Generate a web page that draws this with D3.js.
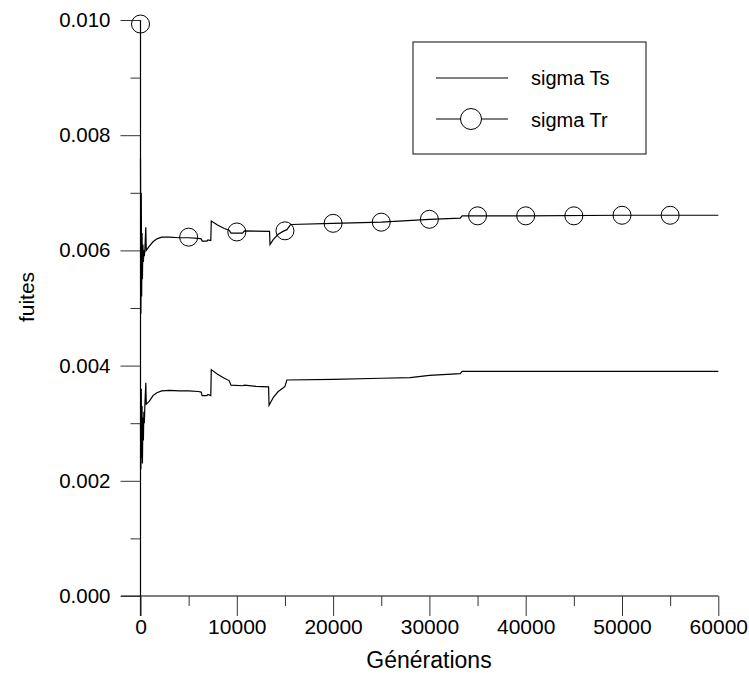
<!DOCTYPE html>
<html><head><meta charset="utf-8">
<script src="https://cdn.jsdelivr.net/npm/d3@7"></script>
<style>body{margin:0;background:#fff}svg{display:block}text{font-family:"Liberation Sans",Arial,Helvetica,sans-serif;fill:#000}</style>
</head><body>
<svg id="c" width="749" height="675"></svg>
<script>
// Data (generation, value)
const trSeries = [[0,0.0076],[40,0.0049],[80,0.0070],[120,0.0052],[160,0.0063],[200,0.0055],[250,0.0061],[300,0.0058],[350,0.0060],[400,0.0059],[450,0.0060],[550,0.0064],[600,0.0060],[900,0.00607],[1300,0.00615],[1700,0.0062],[2200,0.00623],[3000,0.00623],[4000,0.00622],[5000,0.00622],[6000,0.00621],[6300,0.0062],[6400,0.00616],[6900,0.00616],[7000,0.00618],[7300,0.00617],[7350,0.00651],[8000,0.00644],[8700,0.00638],[9200,0.00635],[9400,0.0063],[10600,0.0063],[10800,0.00634],[13400,0.00633],[13450,0.0061],[13800,0.00619],[14300,0.00628],[14800,0.00633],[15200,0.00636],[15600,0.00645],[20000,0.00647],[25000,0.00649],[30000,0.00654],[33200,0.00656],[33400,0.0066],[40000,0.0066],[50000,0.00661],[60000,0.00661]];
const tsSeries = [[0,0.0030],[40,0.0022],[80,0.0036],[120,0.0024],[160,0.0033],[200,0.0023],[250,0.0031],[300,0.0027],[350,0.0032],[400,0.0030],[450,0.0033],[550,0.0037],[600,0.00333],[900,0.00338],[1300,0.00348],[1700,0.00353],[2200,0.00356],[3000,0.00357],[4000,0.00356],[5000,0.00356],[6000,0.00355],[6300,0.00354],[6400,0.00348],[6900,0.00348],[7000,0.0035],[7300,0.00348],[7350,0.00393],[8000,0.00385],[8700,0.00378],[9200,0.00374],[9400,0.00366],[10600,0.00365],[10800,0.00366],[12000,0.00364],[13300,0.00363],[13350,0.00331],[13800,0.00345],[14300,0.00355],[14800,0.00361],[15000,0.00364],[15200,0.00375],[20000,0.00376],[25000,0.00378],[28000,0.00379],[30000,0.00383],[33200,0.00386],[33400,0.0039],[40000,0.0039],[50000,0.0039],[60000,0.0039]];
const trMarkerGen = [0,5000,10000,15000,20000,25000,30000,35000,40000,45000,50000,55000];
const trMarkerVal = [0.00993,0.00623,0.00632,0.00634,0.00647,0.00649,0.00654,0.0066,0.0066,0.0066,0.00661,0.00661];
const xTicks = [0,10000,20000,30000,40000,50000,60000];
const xMinor = [5000,15000,25000,35000,45000,55000];
const yTicks = [0,0.002,0.004,0.006,0.008,0.010];
const yMinor = [0.001,0.003,0.005,0.007,0.009];
const seriesNames = ["sigma Ts","sigma Tr"];

const svg = d3.select("#c");
const x = d3.scaleLinear().domain([0,60000]).range([140.5,718.3]);
const y = d3.scaleLinear().domain([0,0.010]).range([596,20]);

const g = svg.append("g");
g.append("line").attr("x1",121).attr("x2",x(60000)).attr("y1",y(0)).attr("y2",y(0)).attr("stroke","#000").attr("stroke-width",1.2);
g.append("line").attr("x1",x(0)).attr("x2",x(0)).attr("y1",y(0.010)).attr("y2",616).attr("stroke","#000").attr("stroke-width",1.2);

const xAxis = d3.axisBottom(x).tickValues(xTicks).tickSize(20).tickFormat(d3.format("d"));
const xa = g.append("g").attr("transform",`translate(0,${y(0)})`).call(xAxis);
xa.select(".domain").remove();
xa.selectAll(".tick line").attr("stroke","#333");
xa.selectAll(".tick text").attr("font-size",21).attr("font-family","Liberation Sans, Arial, sans-serif").attr("dy","0.5em").attr("y",27).attr("fill","#000");
const xm = d3.axisBottom(x).tickValues(xMinor).tickSize(10).tickFormat("");
const xma = g.append("g").attr("transform",`translate(0,${y(0)})`).call(xm);
xma.select(".domain").remove(); xma.selectAll(".tick line").attr("stroke","#333");

const yAxis = d3.axisLeft(y).tickValues(yTicks).tickSize(20).tickFormat(d3.format(".3f"));
const ya = g.append("g").attr("transform",`translate(${x(0)},0)`).call(yAxis);
ya.select(".domain").remove();
ya.selectAll(".tick line").attr("stroke","#333");
ya.selectAll(".tick text").attr("font-size",20.5).attr("font-family","Liberation Sans, Arial, sans-serif").attr("x",-30).attr("fill","#000");
const ym = d3.axisLeft(y).tickValues(yMinor).tickSize(10).tickFormat("");
const yma = g.append("g").attr("transform",`translate(${x(0)},0)`).call(ym);
yma.select(".domain").remove(); yma.selectAll(".tick line").attr("stroke","#333");

svg.append("text").attr("x",429).attr("y",668).attr("text-anchor","middle").attr("font-size",23).text("Générations");
svg.append("text").attr("transform","translate(34,297) rotate(-90)").attr("text-anchor","middle").attr("font-size",21).text("fuites");

const line = d3.line().x(d=>x(d[0])).y(d=>y(d[1]));
g.append("path").datum(tsSeries).attr("d",line).attr("fill","none").attr("stroke","#000").attr("stroke-width",1.2);
g.append("path").datum(trSeries).attr("d",line).attr("fill","none").attr("stroke","#000").attr("stroke-width",1.2);
g.selectAll("circle.m").data(trMarkerGen.map((v,i)=>[v,trMarkerVal[i]])).enter().append("circle")
 .attr("class","m").attr("cx",d=>x(d[0])).attr("cy",d=>y(d[1])).attr("r",9).attr("fill","none").attr("stroke","#000").attr("stroke-width",1);

const lg = svg.append("g");
lg.append("rect").attr("x",413).attr("y",42).attr("width",233).attr("height",112).attr("fill","#fff").attr("stroke","#333").attr("stroke-width",1.2);
lg.append("line").attr("x1",436).attr("x2",508).attr("y1",78).attr("y2",78).attr("stroke","#000").attr("stroke-width",1);
lg.append("line").attr("x1",436).attr("x2",508).attr("y1",119).attr("y2",119).attr("stroke","#000").attr("stroke-width",1);
lg.append("circle").attr("cx",471).attr("cy",119).attr("r",10.5).attr("fill","#fff").attr("stroke","#000").attr("stroke-width",1);
lg.append("text").attr("x",531).attr("y",85).attr("font-size",20).text(seriesNames[0]);
lg.append("text").attr("x",531).attr("y",127).attr("font-size",20).text(seriesNames[1]);
</script>
</body></html>
